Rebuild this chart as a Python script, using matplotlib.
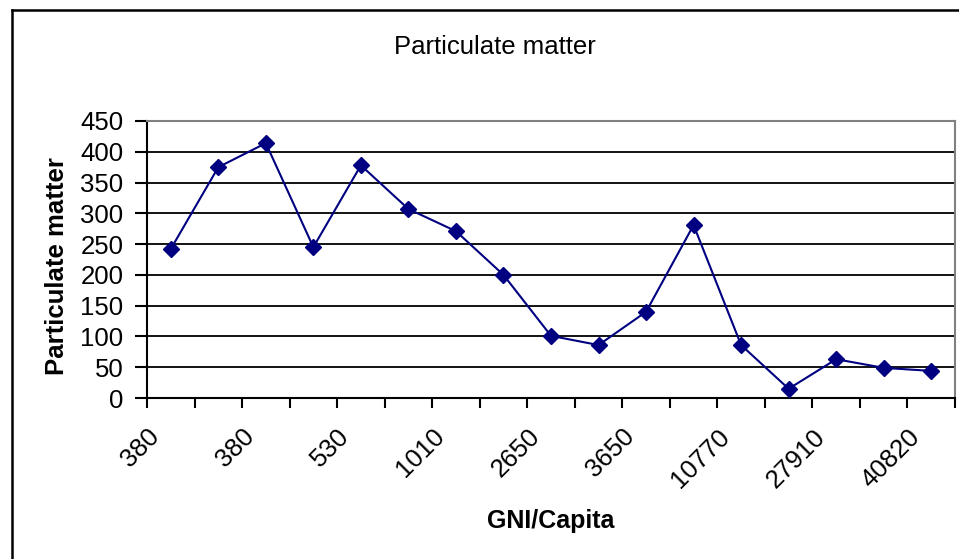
import matplotlib.pyplot as plt
from matplotlib.lines import Line2D

plt.rcParams['font.family'] = ['Liberation Sans', 'DejaVu Sans']

# particulate matter per country, sorted by GNI/capita (every 2nd label shown)
pm_values = [242, 375, 414, 245, 378, 307, 271, 200, 101, 86, 140, 281, 86, 15, 63, 49, 44]
gni_labels = ['380', '380', '530', '1010', '2650', '3650', '10770', '27910', '40820']

fig = plt.figure(figsize=(9.59, 5.59), dpi=100)
ax = fig.add_axes([147 / 959, 1 - 398 / 559, 808 / 959, 277 / 559])

x = list(range(len(pm_values)))
ax.plot(x, pm_values, color='#000080', lw=1.5, marker='D', markersize=8, zorder=3)

ax.set_xlim(-0.5, len(pm_values) - 0.5)
ax.set_ylim(0, 450)
ax.set_yticks(range(0, 451, 50))
ax.yaxis.grid(True, color='black', lw=1.3)
ax.set_axisbelow(True)

# tick marks between categories, labels on every other category
ax.set_xticks([i - 0.5 for i in range(len(pm_values) + 1)])
ax.set_xticklabels([])
for i, lab in zip(range(0, len(pm_values), 2), gni_labels):
    ax.annotate(lab, xy=(i, 0), xycoords=ax.get_xaxis_transform(),
                xytext=(-17, -19), textcoords='offset points',
                rotation=45, ha='right', va='top', rotation_mode='anchor',
                fontsize=18.5, annotation_clip=False)
ax.tick_params(axis='x', direction='out', length=7, width=1.5)
ax.tick_params(axis='y', direction='out', length=9, width=1.5, labelsize=18.5, pad=8)

for side in ['left', 'bottom']:
    ax.spines[side].set_color('black')
    ax.spines[side].set_linewidth(1.5)
for side in ['top', 'right']:
    ax.spines[side].set_color('#808080')
    ax.spines[side].set_linewidth(1.5)

ax.set_ylabel('Particulate matter', fontsize=18.5, fontweight='bold', va='center')
ax.yaxis.set_label_coords(-0.111, 0.477)
ax.set_xlabel('GNI/Capita', fontsize=18, fontweight='bold', va='baseline')
ax.xaxis.set_label_coords(0.5, -0.469)
fig.text(495 / 959, 1 - 47 / 559, 'Particulate matter', fontsize=18.5, ha='center', va='center')

# chart area frame (left and top edges visible)
fig.add_artist(Line2D([11.5 / 959, 11.5 / 959], [0, 1 - 10 / 559], color='black', lw=1.8,
                      transform=fig.transFigure))
fig.add_artist(Line2D([11.5 / 959, 1], [1 - 10 / 559, 1 - 10 / 559], color='black', lw=1.8,
                      transform=fig.transFigure))

fig.savefig('out.png', dpi=100)
